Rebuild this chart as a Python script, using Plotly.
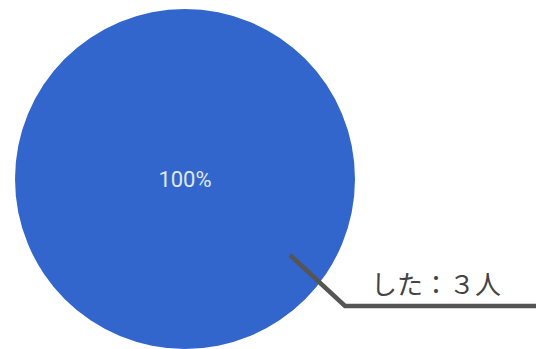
import plotly.graph_objects as go

labels = ["した"]
values = [3]
unit = "人"
colors = ["#3366cc"]

W, H = 536, 349

def px(x, y):
    return x / W, 1 - y / H

def fullwidth(s):
    return s.translate(str.maketrans("0123456789", "０１２３４５６７８９"))

fig = go.Figure(go.Pie(
    labels=labels,
    values=values,
    marker=dict(colors=colors, line=dict(width=0)),
    textinfo="percent",
    texttemplate="%{percent:.0%}",
    textposition="inside",
    insidetextfont=dict(family="Roboto, Noto Sans", size=22, color="#dfe7f7"),
    sort=False,
    domain=dict(x=[15 / W, 355 / W], y=[1 - 349 / H, 1 - 9 / H]),
    hoverinfo="skip",
    showlegend=False,
))

# leader line from slice to label
pts = [px(290, 255), px(345, 306), px(545, 306)]
path = "M {} {} L {} {} L {} {}".format(pts[0][0], pts[0][1], pts[1][0], pts[1][1], pts[2][0], pts[2][1])
fig.add_shape(type="path", path=path, xref="paper", yref="paper",
              line=dict(color="#555555", width=4.5))

fig.add_annotation(
    x=436 / W, y=1 - 282 / H, xref="paper", yref="paper",
    text=f"{labels[0]}：{fullwidth(str(values[0]))}{unit}",
    showarrow=False,
    font=dict(family="Noto Sans CJK JP", size=26, color="#444444"),
    xanchor="center", yanchor="middle",
)

fig.update_layout(
    width=W, height=H,
    margin=dict(l=0, r=0, t=0, b=0),
    paper_bgcolor="white",
    plot_bgcolor="white",
)

fig.write_html(
    "out.html",
    config={"displayModeBar": False},
    post_script="document.body.style.margin='0';document.body.style.overflow='hidden';",
)
